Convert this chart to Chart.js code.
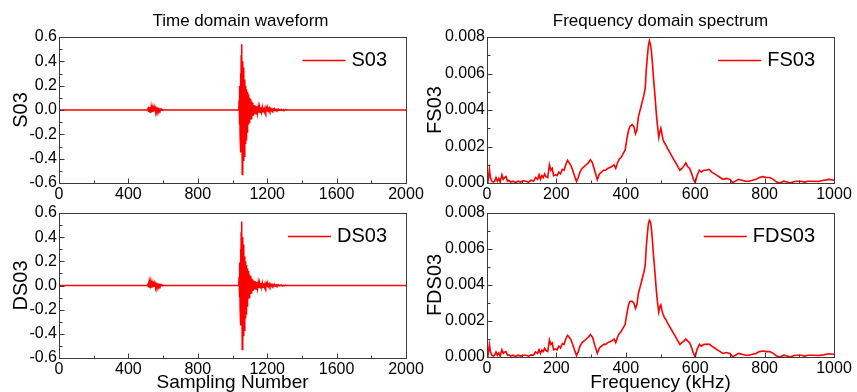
<!DOCTYPE html>
<html>
<head>
<meta charset="utf-8">
<script src="https://cdn.jsdelivr.net/npm/chart.js@4.4.0/dist/chart.umd.min.js"></script>
<style>
body { margin: 0; background: #fff; width: 857px; height: 392px; overflow: hidden; position: relative; }
.panel { position: absolute; }
</style>
</head>
<body>
<div class="panel" style="left:0;top:0;width:428px;height:207px"><canvas id="c1"></canvas></div>
<div class="panel" style="left:0;top:190px;width:428px;height:202px"><canvas id="c2"></canvas></div>
<div class="panel" style="left:420px;top:0;width:437px;height:207px"><canvas id="c3"></canvas></div>
<div class="panel" style="left:420px;top:190px;width:437px;height:202px"><canvas id="c4"></canvas></div>
<script>
// time domain: sample number and amplitude
var sampleNo = [0, 505,
  510,513,516,519,522,525,528,531,534,537,540,543,546,549,552,555,558,561,564,567,570,573,576,579,582,585,588,591,594,597,600,
  610, 1030,
  1036,1038,1040,1042,1044,1046,1048,1050,1052,1054,1056,1058,1060,1062,1064,1066,1068,1070,1072,1074,1076,1078,1080,1082,1084,1086,1088,1090,1092,1094,1096,1098,1100,1102,1104,1106,1108,1110,1112,1114,1116,1118,1120,
  1124,1128,1132,1136,1140,1144,1148,1152,1156,1160,1164,1168,1172,1176,1180,1184,1188,1192,1196,1200,1204,1208,1212,1216,1220,1224,1228,1232,1236,1240,1244,1248,1252,1256,1260,1264,1268,1272,1276,1280,1284,1288,1292,1296,1300,1304,1308,1312,1316,1320,
  1400, 2000];

var s03 = [0, 0,
  0.0,0.012,-0.016,0.025,-0.02,0.024,-0.025,0.02,-0.018,0.016,-0.016,0.014,-0.012,0.016,-0.012,0.012,-0.01,0.01,-0.008,0.008,-0.006,0.006,-0.005,0.005,-0.004,0.004,-0.003,0.003,-0.003,0.002,0.0,
  0, 0,
  0,0.08,-0.12,0.2,-0.22,0.3,-0.35,0.45,-0.3,0.54,-0.53,0.4,-0.5,0.35,-0.42,0.33,-0.38,0.25,-0.3,0.2,-0.28,0.17,-0.25,0.16,-0.18,0.15,-0.15,0.13,-0.12,0.12,-0.1,0.1,-0.09,0.09,-0.08,0.08,-0.07,0.07,-0.06,0.06,-0.05,0.05,-0.045,
  0.04,-0.035,0.035,-0.03,0.03,-0.025,0.025,-0.022,0.024,-0.02,
  0.022,-0.016,0.022,-0.015,0.02,-0.012,0.018,-0.01,0.016,-0.008,
  0.014,-0.006,0.014,-0.006,0.01,-0.005,0.008,-0.004,0.007,-0.004,
  0.006,-0.003,0.005,-0.003,0.004,-0.003,0.004,-0.002,0.003,-0.002,
  0.003,-0.002,0.002,-0.002,0.002,-0.001,0.002,-0.001,0.001,-0.001,
  0, 0];

var ds03 = [0, 0,
  0.0,0.01,-0.015,0.024,-0.018,0.022,-0.024,0.019,-0.016,0.015,-0.015,0.013,-0.011,0.015,-0.011,0.011,-0.009,0.009,-0.007,0.007,-0.006,0.006,-0.005,0.005,-0.004,0.004,-0.003,0.003,-0.002,0.002,0.0,
  0, 0,
  0,0.07,-0.1,0.19,-0.2,0.3,-0.33,0.44,-0.3,0.53,-0.53,0.4,-0.49,0.34,-0.42,0.33,-0.37,0.24,-0.3,0.2,-0.27,0.17,-0.24,0.15,-0.17,0.14,-0.14,0.12,-0.11,0.11,-0.1,0.09,-0.08,0.08,-0.07,0.07,-0.06,0.06,-0.05,0.05,-0.045,0.045,-0.04,
  0.038,-0.033,0.033,-0.028,0.028,-0.024,0.025,-0.02,0.022,-0.018,
  0.02,-0.015,0.02,-0.014,0.018,-0.012,0.016,-0.01,0.015,-0.008,
  0.013,-0.006,0.012,-0.006,0.01,-0.005,0.008,-0.004,0.006,-0.004,
  0.005,-0.003,0.005,-0.003,0.004,-0.003,0.003,-0.002,0.003,-0.002,
  0.002,-0.002,0.002,-0.001,0.002,-0.001,0.001,-0.001,0.001,-0.001,
  0, 0];

// frequency domain: kHz and spectrum amplitude
var freq = [
  0,3,7,10,14,18,22,26,30,34,
  38,43,47,51,55,59,63,68,75,82,
  90,97,105,112,120,127,134,140,146,150,
  154,158,162,166,170,175,180,184,188,192,
  197,202,207,212,217,222,227,232,237,242,
  247,252,258,263,268,274,280,286,292,298,
  304,310,318,324,330,336,342,348,354,360,
  366,371,376,381,386,392,398,403,408,412,
  418,423,428,432,436,440,444,448,452,456,
  459,462,465,468,471,474,477,480,484,488,
  491,495,498,501,504,507,511,515,520,526,
  532,538,544,550,556,562,568,573,578,584,
  590,595,600,605,612,618,625,632,640,648,
  656,664,672,680,690,700,708,716,725,735,
  745,755,765,775,785,795,805,815,825,835,
  845,855,865,875,885,895,905,915,925,940,
  955,970,985,1000];

var fs03 = [
  0.0002,0.0001,0.00075,0.0003,0.0001,0.00005,0.0001,0.0003,0.0001,0.00025,
  0.00005,0.00045,0.0002,0.0003,0.00035,0.0001,0.00015,0.00005,0.0001,0.00003,
  0.0001,0.00005,0.00012,0.0001,0.00005,0.00015,0.0001,0.0003,0.0002,0.00045,
  0.0002,0.0004,0.0003,0.0005,0.00035,0.0003,0.001,0.0007,0.0008,0.0004,
  0.00045,0.0004,0.0006,0.0005,0.00075,0.0007,0.001,0.00125,0.0011,0.00095,
  0.0007,0.0004,0.00008,0.0003,0.0006,0.0008,0.0009,0.001,0.0011,0.00128,
  0.0011,0.0007,0.00018,0.0005,0.0006,0.0007,0.0007,0.0008,0.00085,0.0009,
  0.001,0.0008,0.0011,0.0013,0.0014,0.0016,0.0018,0.0024,0.0029,0.0031,
  0.0032,0.0031,0.0027,0.0029,0.0036,0.0039,0.0042,0.0045,0.0048,0.0052,
  0.0062,0.0069,0.0075,0.0078,0.0076,0.0072,0.0065,0.0057,0.0048,0.0038,
  0.0032,0.0025,0.0028,0.003,0.0027,0.0024,0.0022,0.0021,0.0019,0.0017,
  0.0015,0.0013,0.0011,0.0009,0.0007,0.0008,0.00095,0.0011,0.0009,0.0008,
  0.0005,0.0002,0.0,0.0004,0.0007,0.0006,0.0007,0.0007,0.00075,0.0006,
  0.0005,0.0004,0.0003,0.0002,0.00025,0.0002,0.00002,0.0001,0.0002,0.00015,
  0.0001,0.0001,0.00015,0.0002,0.0003,0.00035,0.0003,0.0003,0.0002,0.00005,
  0.0,0.0001,0.00005,0.0,0.00008,0.0001,0.0001,0.00005,0.0001,0.0001,
  0.00008,0.00015,0.0002,0.00015];

var fds03 = [
  0.0002,0.0001,0.0007,0.0003,0.0001,0.00005,0.0001,0.00028,0.0001,0.00022,
  0.00005,0.0004,0.0002,0.00028,0.0003,0.0001,0.00012,0.00005,0.0001,0.00003,
  0.0001,0.00005,0.0001,0.0001,0.00005,0.00012,0.0001,0.00028,0.0002,0.0004,
  0.0002,0.00038,0.0003,0.00048,0.00035,0.0003,0.00095,0.0007,0.00078,0.0004,
  0.00045,0.0004,0.0006,0.0005,0.00075,0.0007,0.001,0.0012,0.0011,0.00095,
  0.0007,0.0004,0.00008,0.0003,0.0006,0.0008,0.0009,0.001,0.0011,0.00125,
  0.0011,0.0007,0.0002,0.0005,0.0006,0.0007,0.0007,0.0008,0.00085,0.0009,
  0.001,0.0008,0.0011,0.0013,0.0014,0.0016,0.0018,0.0024,0.0029,0.0031,
  0.0031,0.003,0.0027,0.0029,0.0035,0.0038,0.0041,0.0044,0.0047,0.0051,
  0.0061,0.0068,0.0074,0.0076,0.0075,0.0071,0.0064,0.0056,0.0047,0.0037,
  0.0031,0.0025,0.0028,0.0029,0.0026,0.0024,0.0022,0.0021,0.0019,0.0017,
  0.0015,0.0013,0.0011,0.0009,0.0007,0.0008,0.0009,0.001,0.0009,0.0008,
  0.0005,0.0002,0.0,0.0004,0.0007,0.0006,0.0007,0.0007,0.00072,0.0006,
  0.0005,0.0004,0.0003,0.0002,0.00025,0.0002,0.00002,0.0001,0.0002,0.00015,
  0.0001,0.0001,0.00015,0.0002,0.0003,0.00033,0.0003,0.0003,0.0002,0.00005,
  0.0,0.0001,0.00005,0.0,0.00008,0.0001,0.0001,0.00005,0.0001,0.0001,
  0.00008,0.00012,0.00018,0.00015];

var FONT = "'Liberation Sans', Arial, sans-serif";

function toPoints(xs, ys) {
    return xs.map(function (x, i) { return { x: x, y: ys[i] }; });
}

// frame, inward ticks, chart title and inside legend
var framePlugin = {
    id: 'frame',
    afterDatasetsDraw: function (chart, args, opts) {
        var ctx = chart.ctx, a = chart.chartArea;
        var xs = chart.scales.x, ys = chart.scales.y;
        ctx.save();
        ctx.strokeStyle = '#3a3a3a';
        ctx.lineWidth = 1;
        var L = Math.round(a.left) + 0.5, T = Math.round(a.top) + 0.5;
        var R = Math.round(a.right) + 0.5, B = Math.round(a.bottom) + 0.5;
        ctx.strokeRect(L, T, R - L, B - T);
        ctx.beginPath();
        var yv = ys.ticks.map(function (t) { return t.value; });
        yv.forEach(function (v, i) {
            var py = Math.round(ys.getPixelForValue(v)) + 0.5;
            ctx.moveTo(L, py); ctx.lineTo(L + 5, py);
            if (i < yv.length - 1) {
                var pm = Math.round(ys.getPixelForValue((v + yv[i + 1]) / 2)) + 0.5;
                ctx.moveTo(L, pm); ctx.lineTo(L + 3, pm);
            }
        });
        var xv = xs.ticks.map(function (t) { return t.value; });
        xv.forEach(function (v, i) {
            var px = Math.round(xs.getPixelForValue(v)) + 0.5;
            ctx.moveTo(px, B); ctx.lineTo(px, B - 5);
            if (i < xv.length - 1) {
                var pm = Math.round(xs.getPixelForValue((v + xv[i + 1]) / 2)) + 0.5;
                ctx.moveTo(pm, B); ctx.lineTo(pm, B - 3);
            }
        });
        ctx.stroke();

        ctx.fillStyle = '#000';
        if (opts.text) {
            ctx.font = '17px ' + FONT;
            ctx.textAlign = 'center';
            ctx.textBaseline = 'middle';
            ctx.fillText(opts.text, (a.left + a.right) / 2 + opts.dx, 21);
        }
        var ds = chart.data.datasets[0];
        ctx.font = '20px ' + FONT;
        ctx.textAlign = 'right';
        ctx.textBaseline = 'middle';
        var ly = a.top + 23;
        var tx = a.right - 19;
        ctx.fillText(ds.label, tx, ly);
        var x1 = tx - ctx.measureText(ds.label).width - 6;
        ctx.strokeStyle = ds.borderColor;
        ctx.lineWidth = 1.3;
        ctx.beginPath();
        ctx.moveTo(x1 - 43, Math.round(ly) + 0.5);
        ctx.lineTo(x1, Math.round(ly) + 0.5);
        ctx.stroke();
        ctx.restore();
    }
};

function makePanel(id, p) {
    var ctx = document.getElementById(id).getContext('2d');
    return new Chart(ctx, {
        type: 'line',
        data: {
            datasets: [{
                label: p.label,
                data: toPoints(p.xs, p.ys),
                borderColor: '#ff0000',
                borderWidth: p.lw,
                pointRadius: 0,
                tension: 0,
                fill: false
            }]
        },
        options: {
            responsive: true,
            maintainAspectRatio: false,
            animation: false,
            layout: { padding: { top: p.top, right: p.right, left: 0, bottom: 0 } },
            plugins: {
                legend: { display: false },
                tooltip: { enabled: false },
                frame: { text: p.title, dx: p.titleDx || 0 }
            },
            scales: {
                x: {
                    type: 'linear', min: p.xMin, max: p.xMax,
                    grid: { display: false, drawTicks: false },
                    border: { display: false },
                    ticks: {
                        stepSize: p.xStep, autoSkip: false, maxRotation: 0, padding: 2,
                        color: '#000', font: { family: FONT, size: 16 },
                        callback: function (v) { return v.toFixed(0); }
                    },
                    title: {
                        display: !!p.xTitle, text: p.xTitle, color: '#000',
                        font: { family: FONT, size: 19, lineHeight: 1 }, padding: { top: 0, bottom: 0 }
                    },
                    afterFit: function (s) { s.height = p.xH; }
                },
                y: {
                    min: p.yMin, max: p.yMax,
                    grid: { display: false, drawTicks: false },
                    border: { display: false },
                    ticks: {
                        stepSize: p.yStep, padding: 2, color: '#000', font: { family: FONT, size: 16 },
                        callback: function (v) { return v.toFixed(p.yDec); }
                    },
                    title: {
                        display: true, text: p.yTitle, color: '#000',
                        font: { family: FONT, size: 20, lineHeight: 1.2 }, padding: { top: p.yTitlePad, bottom: 0 }
                    },
                    afterFit: function (s) { s.width = p.yW; }
                }
            }
        },
        plugins: [framePlugin]
    });
}

makePanel('c1', { label: 'S03', xs: sampleNo, ys: s03, lw: 1.5, title: 'Time domain waveform', titleDx: 8,
    top: 37, right: 22, yW: 59, xH: 24, xMin: 0, xMax: 2000, xStep: 400,
    yMin: -0.6, yMax: 0.6, yStep: 0.2, yDec: 1, yTitle: 'S03', yTitlePad: 9 });
makePanel('c2', { label: 'DS03', xs: sampleNo, ys: ds03, lw: 1.5,
    top: 23, right: 22, yW: 59, xH: 34, xMin: 0, xMax: 2000, xStep: 400, xTitle: 'Sampling Number',
    yMin: -0.6, yMax: 0.6, yStep: 0.2, yDec: 1, yTitle: 'DS03', yTitlePad: 9 });
makePanel('c3', { label: 'FS03', xs: freq, ys: fs03, lw: 1.6, title: 'Frequency domain spectrum', titleDx: 0,
    top: 37, right: 23, yW: 67, xH: 24, xMin: 0, xMax: 1000, xStep: 200,
    yMin: 0, yMax: 0.008, yStep: 0.002, yDec: 3, yTitle: 'FS03', yTitlePad: 3 });
makePanel('c4', { label: 'FDS03', xs: freq, ys: fds03, lw: 1.6,
    top: 23, right: 23, yW: 67, xH: 35, xMin: 0, xMax: 1000, xStep: 200, xTitle: 'Frequency (kHz)',
    yMin: 0, yMax: 0.008, yStep: 0.002, yDec: 3, yTitle: 'FDS03', yTitlePad: 3 });
</script>
</body>
</html>
